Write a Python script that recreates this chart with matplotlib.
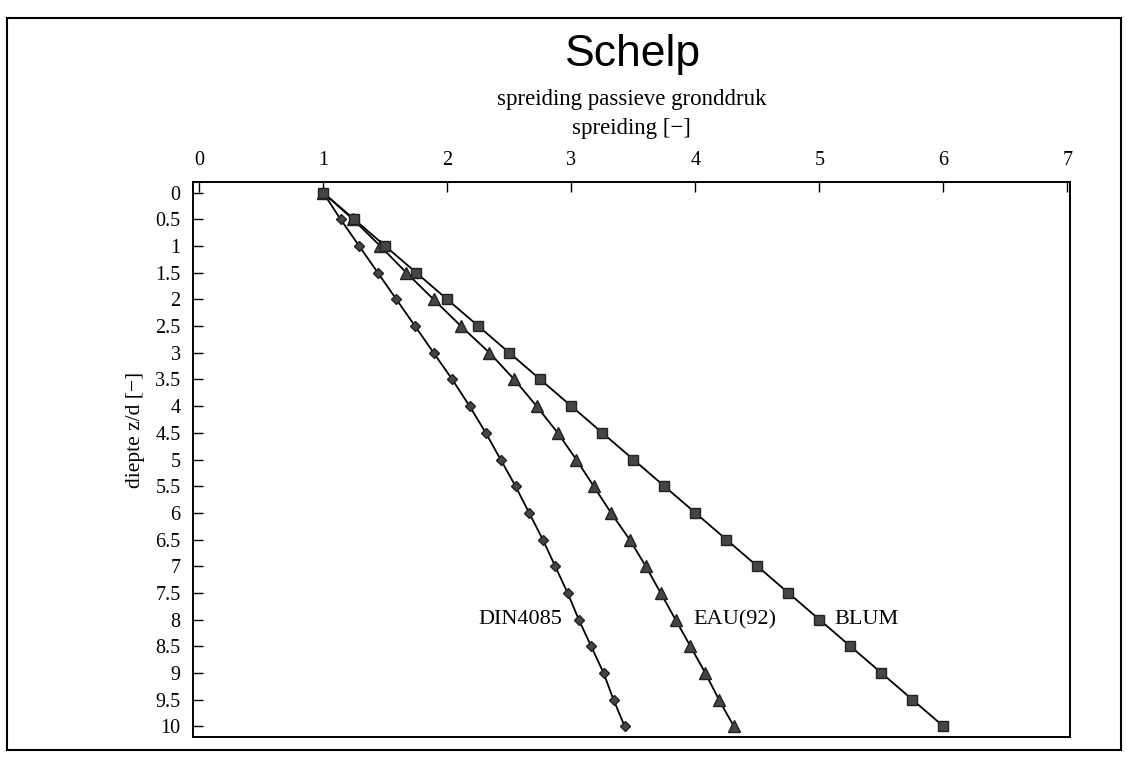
import matplotlib.pyplot as plt
from matplotlib.patches import Rectangle

# depth z/d and spreading values
depth = [0, 0.5, 1, 1.5, 2, 2.5, 3, 3.5, 4, 4.5, 5, 5.5, 6, 6.5, 7, 7.5, 8, 8.5, 9, 9.5, 10]
din4085 = [1.0, 1.14, 1.29, 1.44, 1.59, 1.74, 1.89, 2.04, 2.18, 2.31, 2.43, 2.55, 2.66, 2.77,
           2.87, 2.97, 3.06, 3.16, 3.26, 3.34, 3.43]
eau92 = [1.0, 1.24, 1.46, 1.67, 1.89, 2.11, 2.34, 2.54, 2.72, 2.89, 3.04, 3.18, 3.32, 3.47,
         3.60, 3.72, 3.84, 3.96, 4.08, 4.19, 4.31]
blum = [1.0, 1.25, 1.5, 1.75, 2.0, 2.25, 2.5, 2.75, 3.0, 3.25, 3.5, 3.75, 4.0, 4.25,
        4.5, 4.75, 5.0, 5.25, 5.5, 5.75, 6.0]

x_ticks = [0, 1, 2, 3, 4, 5, 6, 7]
y_ticks = depth
y_ticklabels = ['%g' % d for d in depth]

serif = 'Liberation Serif'

fig = plt.figure(figsize=(11.32, 7.67), dpi=100)
ax = fig.add_axes([0.1705, 0.0391, 0.7747, 0.7236])

# Plot the three methods
ax.plot(din4085, depth, color='black', lw=1.3, marker='D', markersize=5.5,
        markerfacecolor='#454545', markeredgecolor='#222222')
ax.plot(eau92, depth, color='black', lw=1.3, marker='^', markersize=8,
        markerfacecolor='#454545', markeredgecolor='#222222')
ax.plot(blum, depth, color='black', lw=1.3, marker='s', markersize=7.5,
        markerfacecolor='#454545', markeredgecolor='#222222')

# Line labels
ax.text(2.93, 8, 'DIN4085', ha='right', va='center', fontsize=16, family=serif)
ax.text(3.98, 8, 'EAU(92)', ha='left', va='center', fontsize=16, family=serif)
ax.text(5.12, 8, 'BLUM', ha='left', va='center', fontsize=16, family=serif)

# Axes: x on top, depth downward
ax.set_xlim(-0.05, 7.02)
ax.set_ylim(10.2, -0.2)
ax.xaxis.tick_top()
ax.set_xticks(x_ticks)
ax.set_yticks(y_ticks)
ax.set_yticklabels(y_ticklabels)
ax.tick_params(axis='both', direction='in', length=7, width=1, labelsize=14.5)
ax.tick_params(axis='x', pad=9)
ax.tick_params(axis='y', pad=9)
for lab in ax.get_xticklabels() + ax.get_yticklabels():
    lab.set_family(serif)
for sp in ax.spines.values():
    sp.set_linewidth(1.4)

ax.set_ylabel('diepte z/d [\u2212]', fontsize=15.5, family=serif)
ax.yaxis.set_label_coords(-0.055, 0.553)

# Titles
fig.text(0.559, 0.929, 'Schelp', ha='center', va='center', fontsize=32, family='Liberation Sans')
fig.text(0.558, 0.870, 'spreiding passieve gronddruk', ha='center', va='center',
         fontsize=16.5, family=serif)
fig.text(0.558, 0.833, 'spreiding [\u2212]', ha='center', va='center', fontsize=16.5, family=serif)

# Outer frame
fig.patches.append(Rectangle((0.006, 0.022), 0.984, 0.955, transform=fig.transFigure,
                             fill=False, edgecolor='black', lw=1.5))

plt.savefig('out.png', dpi=100)
